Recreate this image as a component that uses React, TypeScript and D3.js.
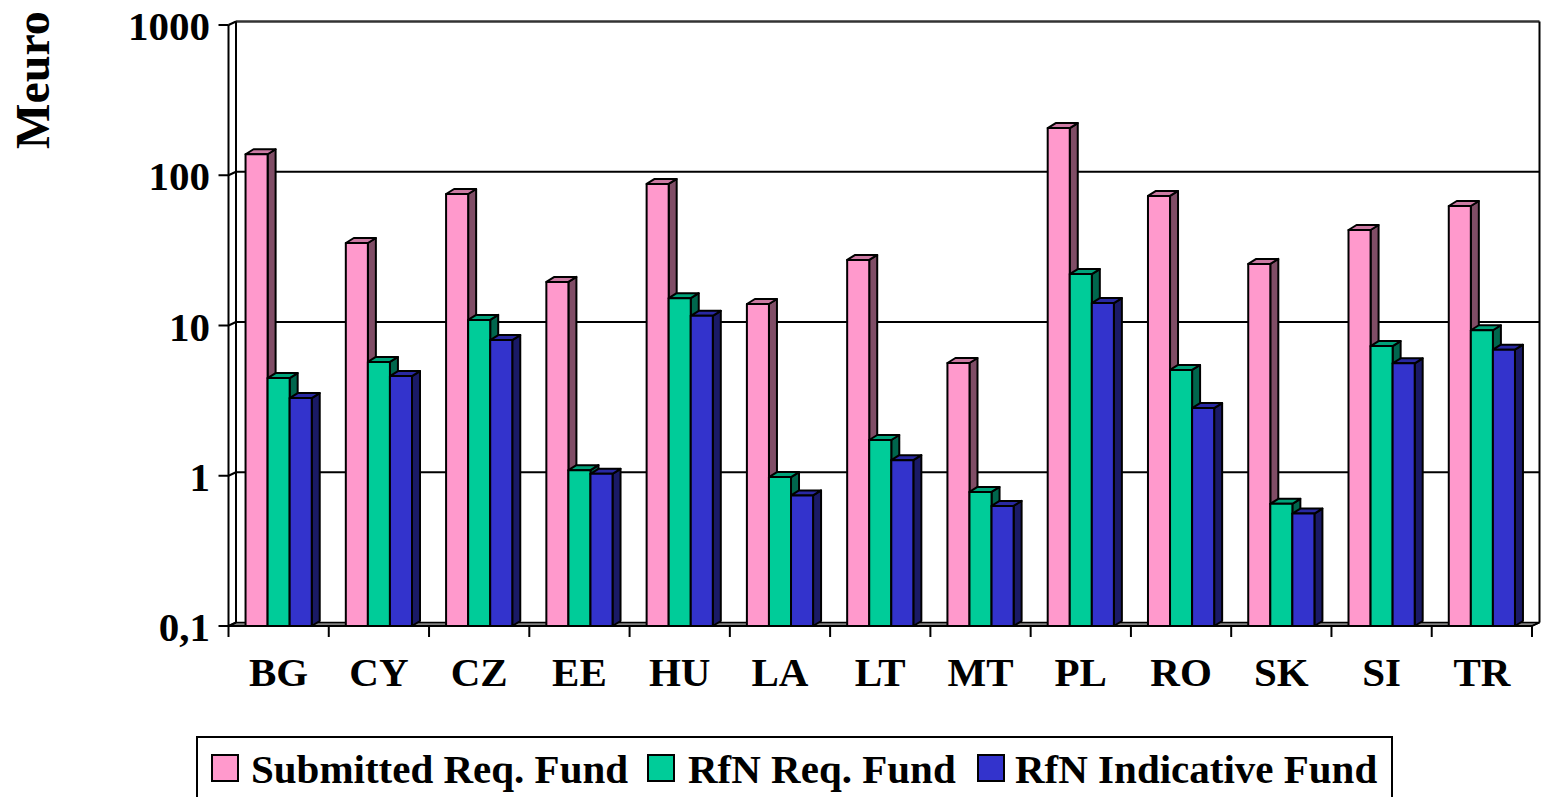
import React from "react";
import * as d3 from "d3";

const categories = ["BG", "CY", "CZ", "EE", "HU", "LA", "LT", "MT", "PL", "RO", "SK", "SI", "TR"];
const submittedReqFund = [138, 35.4, 75, 19.5, 87.5, 13.9, 27.3, 5.63, 206, 72.8, 25.7, 43.2, 62.4];
const rfnReqFund = [4.47, 5.72, 10.9, 1.09, 15.2, 0.98, 1.73, 0.78, 22.0, 5.06, 0.65, 7.3, 9.3];
const rfnIndicativeFund = [3.29, 4.61, 8.0, 1.03, 11.6, 0.74, 1.27, 0.63, 14.1, 2.82, 0.56, 5.6, 6.9];
const seriesNames = ["Submitted Req. Fund", "RfN Req. Fund", "RfN Indicative Fund"];
const yTickValues = [0.1, 1, 10, 100, 1000];
const yTickLabels = ["0,1", "1", "10", "100", "1000"];
const yAxisTitle = "Meuro";

const COLORS = [
  { front: "#FF99CC", top: "#CC7AA3", side: "#804D66" },
  { front: "#00CC99", top: "#00A37A", side: "#00664D" },
  { front: "#3333CC", top: "#2929A3", side: "#1A1A66" },
];

const FONT = "'Liberation Serif', 'Times New Roman', serif";

export default function App() {
  const W = 1541, H = 797;
  const x0 = 228.5, x1 = 1532;
  const yBottom = 626, yTop = 25;
  const wdx = 7.5, wdy = 3.5; // wall depth
  const bdx = 8, bdy = 5; // bar depth

  const x = d3.scaleBand<string>().domain(categories).range([x0, x1]).paddingInner(0).paddingOuter(0);
  const y = d3.scaleLog().domain([0.1, 1000]).range([yBottom, yTop]);
  const bw = x.bandwidth();
  const barW = bw * 0.22;
  const barOff = bw * 0.17;
  const series = [submittedReqFund, rfnReqFund, rfnIndicativeFund];

  const bars: React.ReactNode[] = [];
  categories.forEach((c, i) => {
    series.forEach((vals, s) => {
      const v = vals[i];
      const left = (x(c) as number) + barOff + s * barW;
      const right = left + barW;
      const top = y(v);
      const col = COLORS[s];
      const pts = (arr: number[][]) => arr.map((p) => p.join(",")).join(" ");
      bars.push(
        <g key={`${c}-${s}`} stroke="#000" strokeWidth={2} strokeLinejoin="round">
          <polygon
            points={pts([[right, top], [right + bdx, top - bdy], [right + bdx, yBottom - bdy], [right, yBottom]])}
            fill={col.side}
          />
          <polygon
            points={pts([[left, top], [left + bdx, top - bdy], [right + bdx, top - bdy], [right, top]])}
            fill={col.top}
          />
          <rect x={left} y={top} width={barW} height={yBottom - top} fill={col.front} />
        </g>
      );
    });
  });

  const legendSwatchX = [212, 648, 978];
  const legendTextX = [251, 688, 1015];

  return (
    <svg
      width={W}
      height={H}
      viewBox={`0 0 ${W} ${H}`}
      style={{ position: "absolute", left: 0, top: 0, background: "#fff" }}
      fontFamily={FONT}
      fontWeight="bold"
    >
      <rect x={0} y={0} width={W} height={H} fill="#fff" />
      {/* floor */}
      <polygon
        points={`${x0},${yBottom} ${x1},${yBottom} ${x1 + wdx},${yBottom - wdy} ${x0 + wdx},${yBottom - wdy}`}
        fill="#808080"
        stroke="#000"
        strokeWidth={1.5}
      />
      {/* back wall gridlines */}
      {yTickValues.map((t, i) => (
        <g key={`g${i}`} stroke="#000" strokeWidth={2} fill="none">
          {i > 0 && i < yTickValues.length - 1 && (
            <line x1={x0 + wdx} x2={x1 + wdx} y1={y(t) - wdy} y2={y(t) - wdy} />
          )}
          <line x1={x0} x2={x0 + wdx} y1={y(t)} y2={y(t) - wdy} />
          <line x1={x0 - 10} x2={x0} y1={y(t)} y2={y(t)} />
        </g>
      ))}
      {/* back wall border */}
      <line x1={x0 + wdx} x2={x1 + wdx} y1={yTop - wdy} y2={yTop - wdy} stroke="#333" strokeWidth={2.5} />
      <line x1={x1 + wdx} x2={x1 + wdx} y1={yTop - wdy} y2={yBottom - wdy} stroke="#000" strokeWidth={2} />
      <line x1={x0 + wdx} x2={x0 + wdx} y1={yTop - wdy} y2={yBottom - wdy} stroke="#000" strokeWidth={2} />
      {/* front y axis */}
      <line x1={x0} x2={x0} y1={yTop} y2={yBottom} stroke="#000" strokeWidth={2} />
      {/* bars */}
      {bars}
      {/* x axis front edge */}
      <line x1={x0} x2={x1} y1={yBottom} y2={yBottom} stroke="#000" strokeWidth={2} />
      <line x1={x1} x2={x1 + wdx} y1={yBottom} y2={yBottom - wdy} stroke="#000" strokeWidth={1.5} />
      {/* category ticks */}
      {categories.map((c, i) => (
        <line key={`t${i}`} x1={x(c) as number} x2={x(c) as number} y1={yBottom} y2={yBottom + 11} stroke="#000" strokeWidth={2} />
      ))}
      <line x1={x1} x2={x1} y1={yBottom} y2={yBottom + 11} stroke="#000" strokeWidth={2} />
      {/* category labels */}
      {categories.map((c) => (
        <text key={`l${c}`} x={(x(c) as number) + bw / 2} y={686} textAnchor="middle" fontSize={41} fill="#000">
          {c}
        </text>
      ))}
      {/* y tick labels */}
      {yTickValues.map((t, i) => (
        <text key={`yl${i}`} x={210} y={y(t) + 15} textAnchor="end" fontSize={41} fill="#000">
          {yTickLabels[i]}
        </text>
      ))}
      {/* y axis title */}
      <text transform="translate(49,80) rotate(-90)" textAnchor="middle" fontSize={48} fill="#000">
        {yAxisTitle}
      </text>
      {/* legend */}
      <rect x={197} y={737} width={1195} height={80} fill="#fff" stroke="#000" strokeWidth={2} />
      {seriesNames.map((n, i) => (
        <g key={`lg${i}`}>
          <rect x={legendSwatchX[i]} y={755} width={26} height={26} fill={COLORS[i].front} stroke="#000" strokeWidth={2} />
          <text x={legendTextX[i]} y={783} fontSize={41} fill="#000">
            {n}
          </text>
        </g>
      ))}
    </svg>
  );
}
